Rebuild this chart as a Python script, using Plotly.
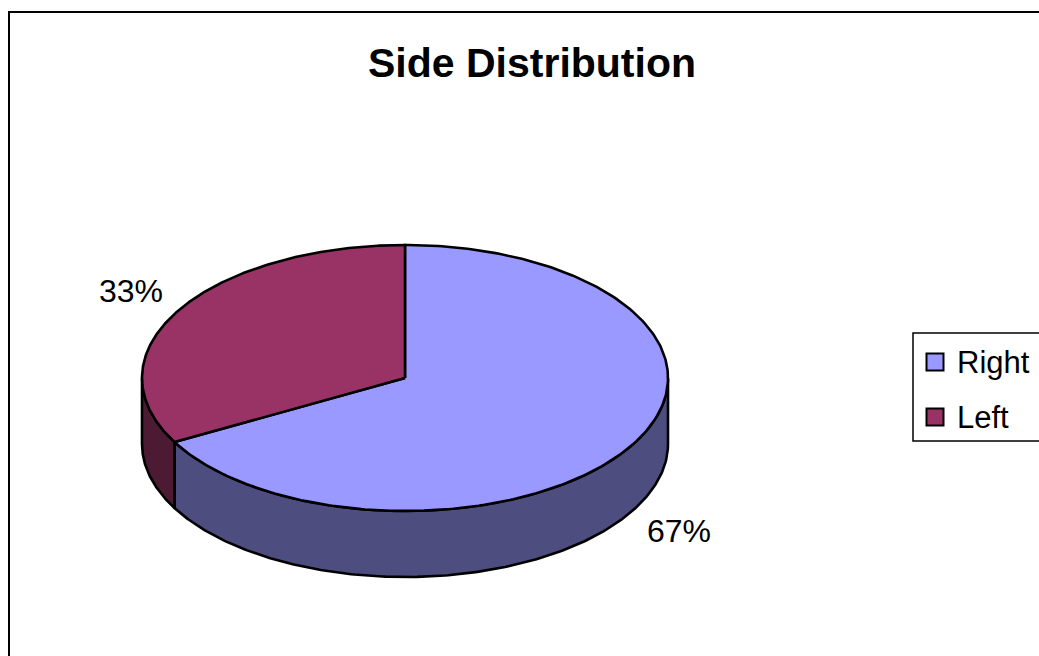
import numpy as np
import plotly.graph_objects as go

# ---- data ----
labels = ["Right", "Left"]
values = [67, 33]
top_colors = ["#9999FF", "#993366"]
side_colors = ["#4D4D80", "#4D1A33"]
title = "Side Distribution"

W, H = 1039, 656
cx, cy, rx, ry, depth = 405, 378, 263, 133, 66

fig = go.Figure()

total = float(sum(values))
fracs = [v / total for v in values]
bounds = np.concatenate([[0.0], np.cumsum(fracs)]) * 2 * np.pi


def ell(t, dy=0.0):
    return cx + rx * np.sin(t), cy - ry * np.cos(t) + dy


# side faces (only front half visible: theta in [pi/2, 3pi/2])
for i in range(len(values)):
    a0, a1 = bounds[i], bounds[i + 1]
    s0, s1 = max(a0, np.pi / 2), min(a1, 3 * np.pi / 2)
    if s1 <= s0:
        continue
    t = np.linspace(s0, s1, 200)
    xt, yt = ell(t)
    xb, yb = ell(t[::-1], depth)
    xs = np.concatenate([xt, xb, xt[:1]])
    ys = np.concatenate([yt, yb, yt[:1]])
    fig.add_trace(go.Scatter(x=xs, y=ys, mode="lines", fill="toself",
                             fillcolor=side_colors[i],
                             line=dict(color="black", width=2.6),
                             hoverinfo="skip", showlegend=False))

# top faces
for i in range(len(values)):
    a0, a1 = bounds[i], bounds[i + 1]
    t = np.linspace(a0, a1, 300)
    xt, yt = ell(t)
    xs = np.concatenate([[cx], xt, [cx]])
    ys = np.concatenate([[cy], yt, [cy]])
    fig.add_trace(go.Scatter(x=xs, y=ys, mode="lines", fill="toself",
                             fillcolor=top_colors[i],
                             line=dict(color="black", width=2.6),
                             name=labels[i], hoverinfo="skip", showlegend=False))

# percentage labels
for i in range(len(values)):
    mid = (bounds[i] + bounds[i + 1]) / 2
    lx = cx + 1.21 * rx * np.sin(mid)
    ly = cy - 1.29 * ry * np.cos(mid) + (depth if np.cos(mid) < 0 else 0)
    fig.add_annotation(x=lx, y=ly, text=f"{round(fracs[i] * 100)}%",
                       showarrow=False, xanchor="center", yanchor="middle",
                       font=dict(family="Liberation Sans, Arial", size=32, color="black"))

# custom legend
lg_x0, lg_y0, lg_y1 = 913, 333, 441
fig.add_shape(type="rect", x0=lg_x0, y0=lg_y0, x1=W + 10, y1=lg_y1,
              line=dict(color="black", width=1.5), fillcolor="white", layer="below")
for i, lab in enumerate(labels):
    yy = 362 + i * 55
    fig.add_trace(go.Scatter(x=[935], y=[yy], mode="markers",
                             marker=dict(symbol="square", size=17, color=top_colors[i],
                                         line=dict(color="black", width=2)),
                             hoverinfo="skip", showlegend=False))
    fig.add_annotation(x=955, y=yy, text=lab, showarrow=False,
                       xanchor="left", yanchor="middle",
                       font=dict(family="Liberation Sans, Arial", size=31, color="black"))

# title
fig.add_annotation(x=532, y=63, text=f"<b>{title}</b>", showarrow=False,
                   xanchor="center", yanchor="middle",
                   font=dict(family="Liberation Sans, Arial", size=41, color="black"))

# outer chart border
fig.add_shape(type="rect", x0=9, y0=12, x1=W + 10, y1=H + 10,
              line=dict(color="black", width=2), layer="below")

fig.update_layout(
    width=W, height=H, autosize=False,
    margin=dict(l=0, r=0, t=0, b=0, pad=0),
    paper_bgcolor="white", plot_bgcolor="white",
    xaxis=dict(range=[0, W], visible=False, fixedrange=True),
    yaxis=dict(range=[H, 0], visible=False, fixedrange=True),
    showlegend=False,
)

fig.write_html("out.html")
